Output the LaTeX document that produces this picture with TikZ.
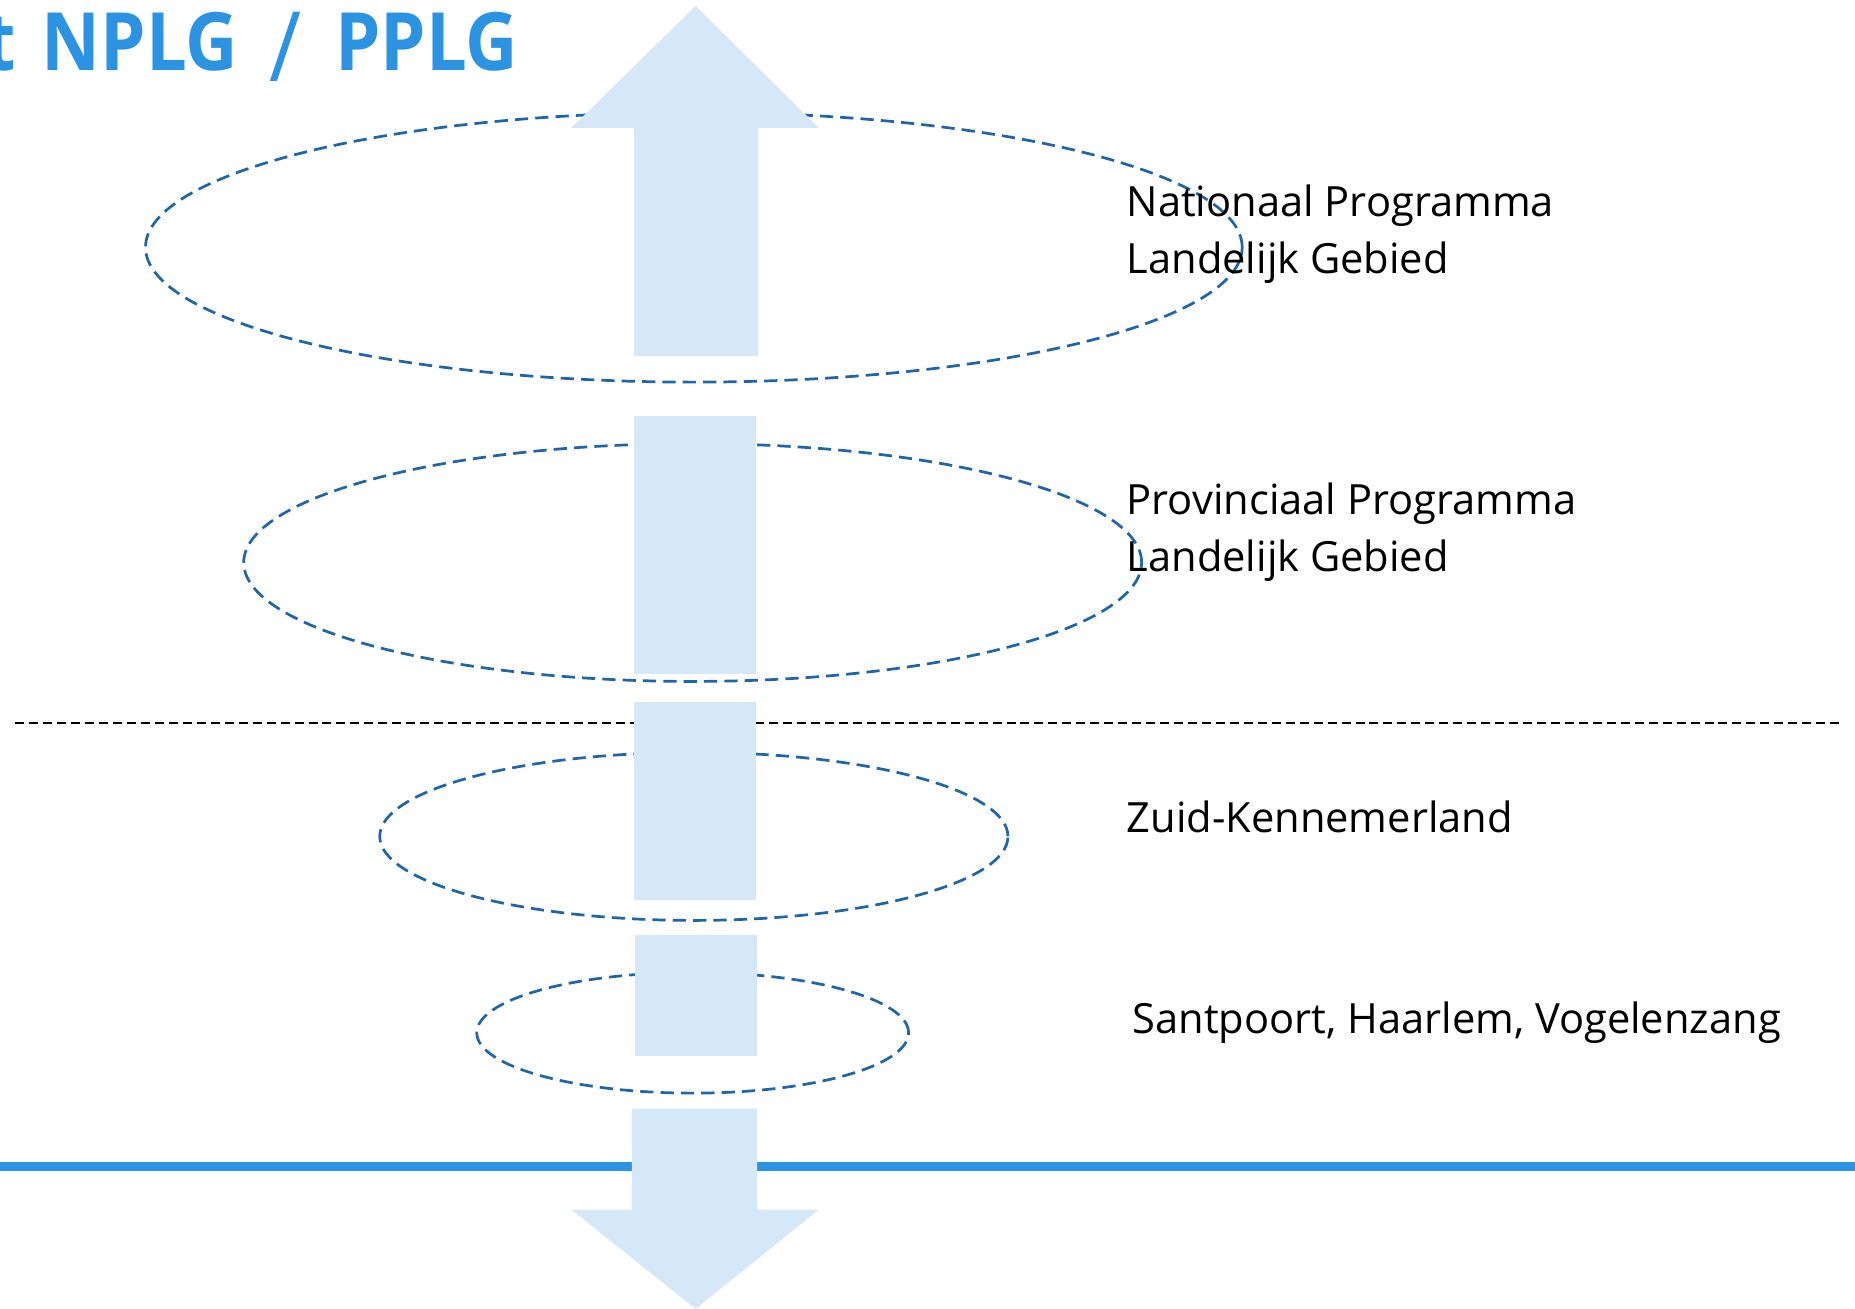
\documentclass[tikz,border=0pt]{standalone}
\usepackage{fontspec}
\setmainfont{Open Sans}[Ligatures=NoCommon]
\newfontfamily\titlefont{Open Sans}[FakeStretch=0.9, Ligatures=NoCommon]
\usetikzlibrary{shapes.geometric}
\definecolor{titleblue}{RGB}{43,147,225}
\definecolor{arrowfill}{RGB}{213,232,248}
\definecolor{ringblue}{RGB}{31,102,168}
\tikzset{
  ring/.style={draw=ringblue, line width=1.15pt, dash pattern=on 5.6pt off 3pt, ellipse, inner sep=0pt},
  seg/.style={fill=arrowfill, draw=none},
  label/.style={anchor=base west, inner sep=0pt, font=\fontsize{17.6pt}{22pt}\selectfont},
  titlepart/.style={inner sep=0pt, text=titleblue, font=\titlefont\fontsize{34pt}{38pt}\selectfont\bfseries},
}
\begin{document}
\begin{tikzpicture}[x=0.5pt,y=-0.5pt]
\useasboundingbox (0,0) rectangle (1568,1106.4);
% rings
\node[ring, minimum width=463.5pt, minimum height=114pt] (e1) at (586.5,209) {};
\node[ring, minimum width=379.5pt, minimum height=100.5pt] (e2) at (585.5,475.5) {};
\node[ring, minimum width=265.5pt, minimum height=71pt] (e3) at (586.5,707) {};
\node[ring, minimum width=182.5pt, minimum height=51pt] (e4) at (585.5,873) {};
% dotted separator
\coordinate (dl) at (13,611);
\coordinate (dr) at (1555,611);
\draw[black, line width=0.9pt, dash pattern=on 3.8pt off 2.1pt] (dl) -- (dr);
% blue ground line
\coordinate (bl) at (0,986);
\coordinate (br) at (1568,986);
\draw[titleblue, line width=4.2pt] (bl) -- (br);
% arrow pieces
\fill[seg] (588,5) -- (692,108) -- (641,108) -- (641,301) -- (536,301) -- (536,108) -- (483,108) -- cycle;
\fill[seg] (536,352) rectangle (639,570);
\fill[seg] (536,593) rectangle (639,761);
\fill[seg] (537,790) rectangle (640,893);
\fill[seg] (534,937) -- (640,937) -- (640,1022.5) -- (692,1022.5) -- (588,1106.4) -- (483,1022.5) -- (534,1022.5) -- cycle;
% title
\node[titlepart, anchor=base east] (tt) at (14,60) {t};
\node[titlepart, anchor=base west] (t1) at (35,60) {NPLG};
\node[titlepart, anchor=base, font=\titlefont\fontsize{41pt}{44pt}\selectfont] (t2) at (241.5,69) {/};
\node[titlepart, anchor=base west] (t3) at (283,60) {PPLG};
% labels
\node[label] (n1) at (952,183) {Nationaal Programma};
\node[label] (n2) at (952,231) {Landelijk Gebied};
\node[label] (p1) at (952,435) {Provinciaal Programma};
\node[label] (p2) at (952,483) {Landelijk Gebied};
\node[label] (z) at (952,704) {Zuid-Kennemerland};
\node[label] (s) at (957,874) {Santpoort, Haarlem, Vogelenzang};
\end{tikzpicture}
\end{document}
